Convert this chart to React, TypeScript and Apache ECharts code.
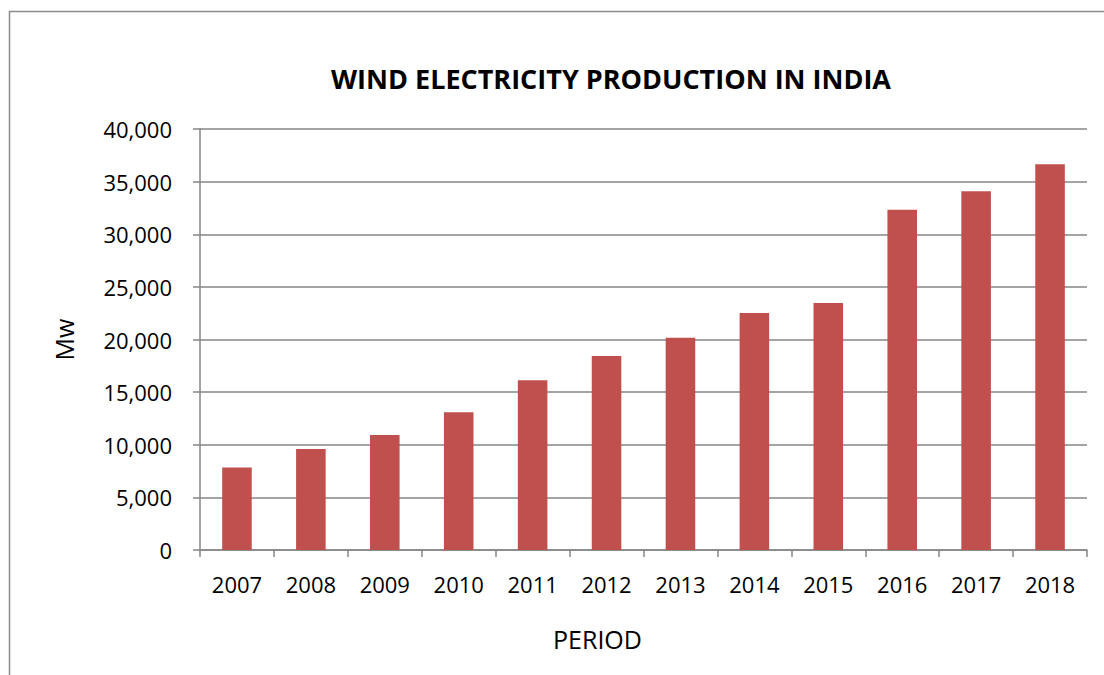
import React, { useEffect, useRef } from "react";
import * as echarts from "echarts";

const categories = ["2007", "2008", "2009", "2010", "2011", "2012", "2013", "2014", "2015", "2016", "2017", "2018"];
const production = [7850, 9590, 10925, 13080, 16120, 18430, 20175, 22520, 23470, 32335, 34080, 36645];
const yTicks = { min: 0, max: 40000, interval: 5000 };

const FONT = "'Open Sans', sans-serif";

export default function App() {
  const ref = useRef<HTMLDivElement>(null);
  useEffect(() => {
    if (!ref.current) return;
    const chart = echarts.init(ref.current, null, { renderer: "svg" });
    chart.setOption({
      animation: false,
      backgroundColor: "#ffffff",
      title: {
        text: "WIND ELECTRICITY PRODUCTION IN INDIA",
        left: 606,
        textAlign: "center",
        top: 60,
        textStyle: { fontFamily: FONT, fontWeight: "bold", fontSize: 27, color: "#000" },
      },
      graphic: [
        {
          type: "rect",
          shape: { x: 9.5, y: 11.5, width: 1200, height: 800 },
          style: { fill: "none", stroke: "#8c8c8c", lineWidth: 1.5 },
          silent: true,
          z: -1,
        },
      ],
      grid: { left: 200, right: 17, top: 129, bottom: 125 },
      xAxis: {
        type: "category",
        data: categories,
        name: "PERIOD",
        nameLocation: "middle",
        nameGap: 76,
        nameTextStyle: { fontFamily: FONT, fontSize: 25, color: "#000", padding: [0, 92, 0, 0] },
        axisLine: { lineStyle: { color: "#868686", width: 1.5 } },
        axisTick: { show: true, length: 7, alignWithLabel: false, lineStyle: { color: "#868686", width: 1.5 } },
        axisLabel: { fontFamily: FONT, fontSize: 22, color: "#000", margin: 23, interval: 0 },
      },
      yAxis: {
        type: "value",
        min: yTicks.min,
        max: yTicks.max,
        interval: yTicks.interval,
        name: "Mw",
        nameLocation: "middle",
        nameGap: 124,
        nameRotate: 90,
        nameTextStyle: { fontFamily: FONT, fontSize: 25, color: "#000" },
        axisLine: { show: true, lineStyle: { color: "#868686", width: 1.5 } },
        axisTick: { show: true, length: 7, lineStyle: { color: "#868686", width: 1.5 } },
        axisLabel: {
          fontFamily: FONT,
          fontSize: 22,
          color: "#000",
          margin: 28,
          formatter: (v: number) => v.toLocaleString("en-US"),
        },
        splitLine: { show: true, lineStyle: { color: "#868686", width: 1.5 } },
      },
      series: [
        {
          type: "bar",
          data: production,
          barWidth: "40%",
          itemStyle: { color: "#C0504D" },
        },
      ],
    });
    return () => chart.dispose();
  }, []);
  return (
    <div
      ref={ref}
      style={{ position: "fixed", left: 0, top: 0, width: 1104, height: 675 }}
    />
  );
}
